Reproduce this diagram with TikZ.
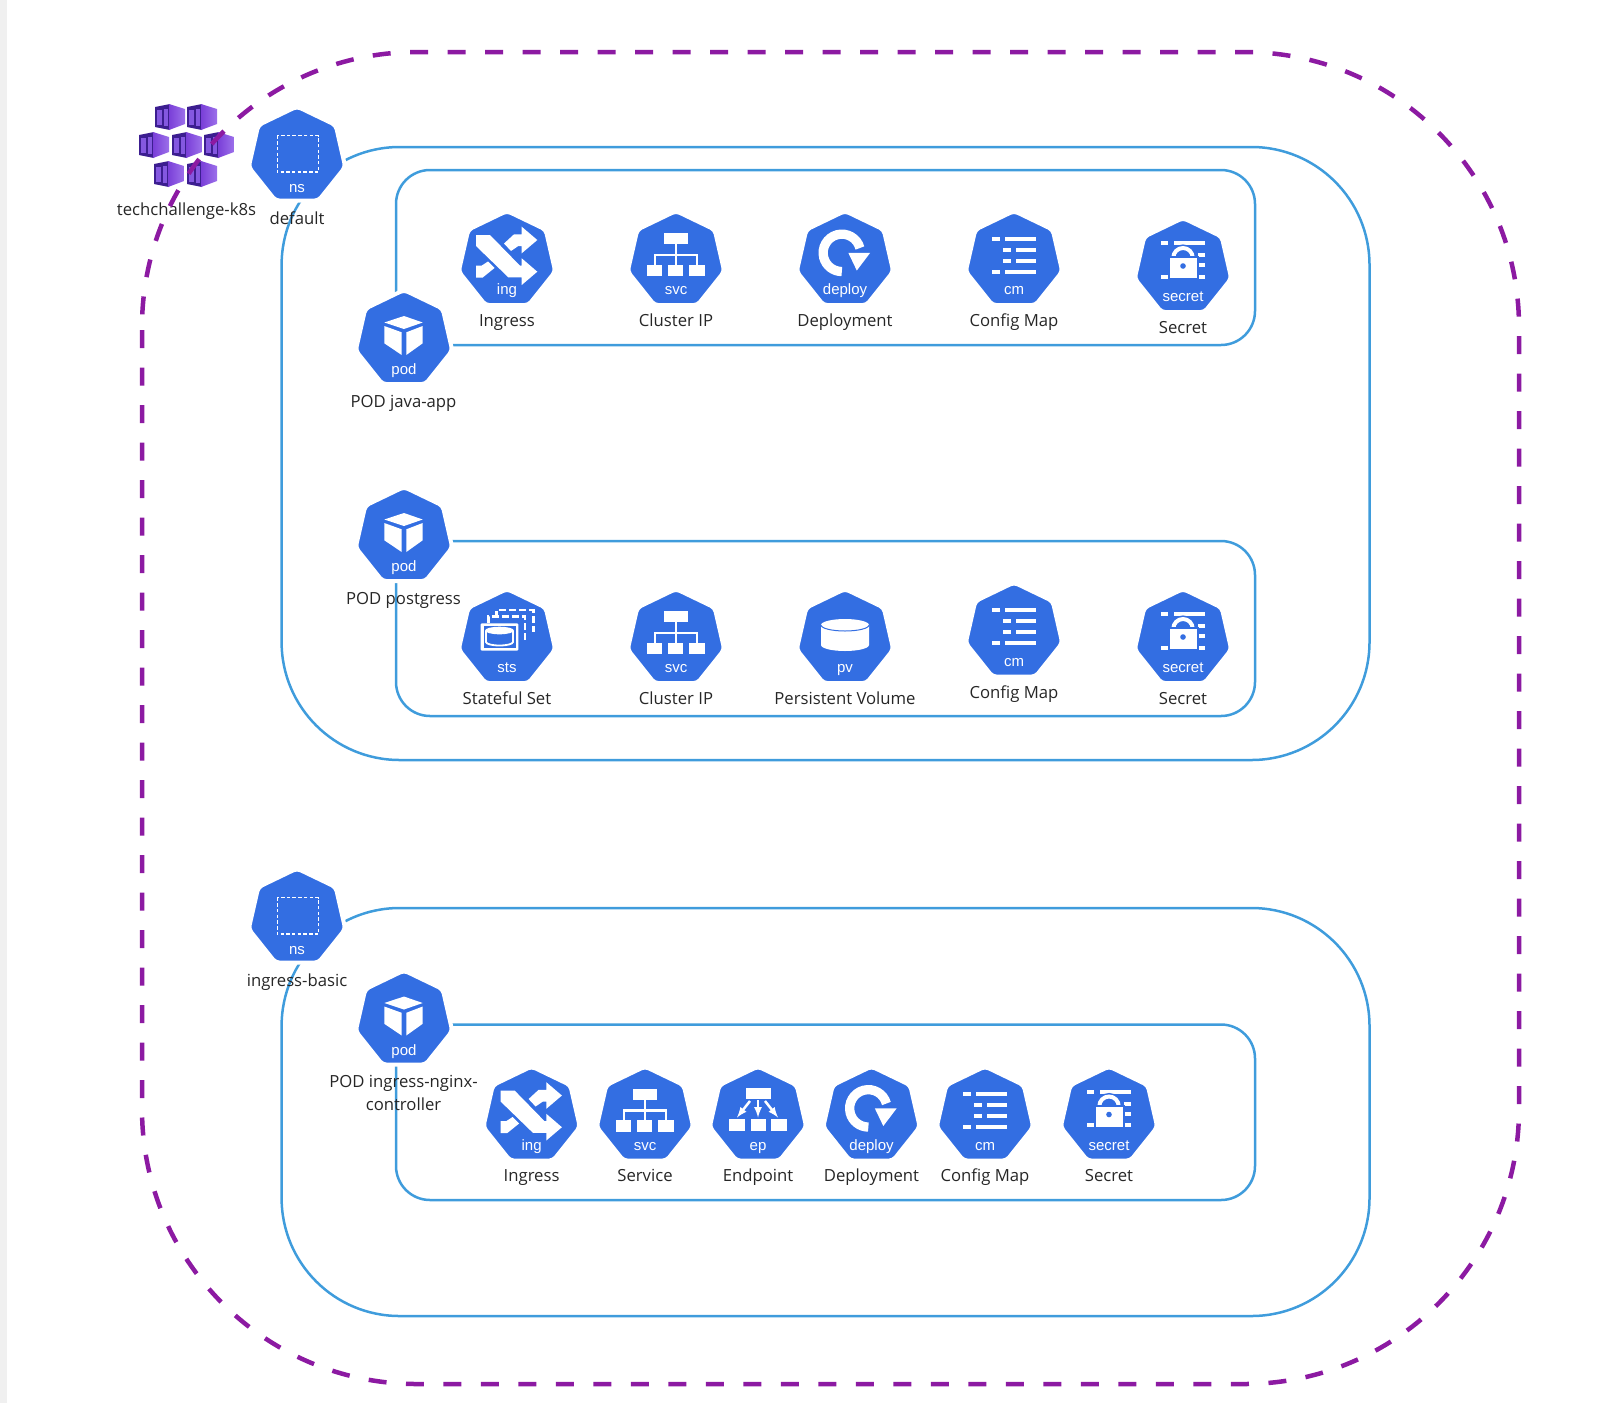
\documentclass[tikz,border=0pt]{standalone}
\usepackage{fontspec}
\setmainfont{Open Sans}
\newfontfamily\tagfont{Liberation Sans}
\usetikzlibrary{shapes.geometric}
\definecolor{kblue}{HTML}{336EE2}
\definecolor{boxblue}{HTML}{3F9CDC}
\definecolor{dashpurple}{HTML}{8C1AA2}
\definecolor{cubedark}{HTML}{3C1E90}
\definecolor{cubebar}{HTML}{8458E0}
\definecolor{cubeleft}{HTML}{7A3FD8}
\definecolor{cuberight}{HTML}{9C70EA}
\tikzset{
  hepta/.style={regular polygon,regular polygon sides=7,minimum size=99pt,inner sep=0pt,outer sep=0pt,
    fill=kblue,draw=white,line width=4pt,rounded corners=4pt},
  tag/.style={text=white,anchor=base,inner sep=0pt,font=\tagfont\fontsize{15}{18}\selectfont},
  lbl/.style={text=black!85,anchor=base,inner sep=0pt,align=center,font=\fontsize{16.7}{23.5}\selectfont},
  ctr/.style={draw=boxblue,line width=2.5pt},
  nsglyph/.pic={
    \draw[white,line width=1.6pt,dash pattern=on 3.5pt off 2.2pt] (-19.7,-20.5) rectangle (21.3,16.2);
    \node[tag] (tag) at (0,36) {ns};
  },
  podglyph/.pic={
    \fill[white] (0,-23.5)--(18.7,-17)--(0,-10.5)--(-19.7,-17)--cycle;
    \fill[white] (-19.7,-13.5)--(-2.3,-7.2)--(-2.3,15.5)--(-19.7,3.8)--cycle;
    \fill[white] (2.3,-7.2)--(18.7,-13.5)--(18.7,3.8)--(2.3,15.5)--cycle;
    \node[tag] (tag) at (0,35) {pod};
  },
  ingglyph/.pic={
    \fill[white] (-31,-25.5)--(-17,-25.5)--(13,5.2)--(14.7,5.2)--(14.7,-2.2)--(30.3,11.2)--(14.7,24.5)--(14.7,16.8)--(1.3,16.8)--(-31,-14.5)--cycle;
    \fill[white] (14.7,-33.8)--(30.3,-20.5)--(14.7,-7.2)--(14.7,-14.5)--(11.3,-14.5)--(4,-9.5)--(-3,-17)--(7,-26.2)--(14.7,-26.2)--cycle;
    \fill[white] (-31,5.2)--(-25.5,5.2)--(-19,1)--(-12.5,7.5)--(-24.5,17.2)--(-31,17.2)--cycle;
    \node[tag] (tag) at (0,34) {ing};
  },
  svcglyph/.pic={
    \fill[white] (-12,-27.5) rectangle (12.3,-16.5);
    \fill[white] (-28.7,4) rectangle (-13.7,15.5);
    \fill[white] (-7.7,4) rectangle (7.3,15.5);
    \fill[white] (13.3,4) rectangle (29,15.5);
    \draw[white,line width=2.3pt] (0,-16.5)--(0,4) (-21,4)--(-21,-5.5)--(21,-5.5)--(21,4);
    \node[tag] (tag) at (0,34) {svc};
  },
  epglyph/.pic={
    \fill[white] (-12,-27.7) rectangle (12.7,-17);
    \fill[white] (-28.7,3.3) rectangle (-13,14.7);
    \fill[white] (-7.3,3.3) rectangle (8,14.7);
    \fill[white] (13,3.3) rectangle (28.7,14.7);
    \draw[white,line width=2.5pt,-latex] (0,-16)--(0,1.5);
    \draw[white,line width=2.5pt,-latex] (-8,-15)--(-21,1.5);
    \draw[white,line width=2.5pt,-latex] (7,-15)--(20,1.5);
    \node[tag] (tag) at (0,34) {ep};
  },
  deployglyph/.pic={
    \draw[white,line width=9.3pt] (14.9,-12.5) arc[start angle=-15,end angle=-270,radius=18.7];
    \fill[white] (3.3,-7.7)--(25.2,-7.7)--(11.8,10)--cycle;
    \node[tag] (tag) at (0,34) {deploy};
  },
  cmglyph/.pic={
    \fill[white] (-21.7,-24) rectangle (-14,-20);
    \fill[white] (-8.7,-24) rectangle (22,-20);
    \fill[white] (-10.7,-13) rectangle (-3,-9);
    \fill[white] (2,-13) rectangle (22,-9);
    \fill[white] (-10.7,-2) rectangle (-3,2);
    \fill[white] (2,-2) rectangle (22,2);
    \fill[white] (-21.7,9) rectangle (-14,13);
    \fill[white] (-8.7,9) rectangle (22,13);
    \node[tag] (tag) at (0,34) {cm};
  },
  secretglyph/.pic={
    \fill[white] (-22,-26.2) rectangle (-14.7,-22.2);
    \fill[white] (-8.7,-26.2) rectangle (22,-22.2);
    \fill[white] (15.3,-14.5) rectangle (22,-10.5);
    \fill[white] (15.3,-4.5) rectangle (22,-0.5);
    \fill[white] (-22,7.2) rectangle (-14.7,11.2);
    \fill[white] (-8.7,7.2) rectangle (22,11.2);
    \draw[kblue,line width=7pt] (-9.7,-9.8) arc[start angle=-180,end angle=0,radius=9.7];
    \draw[white,line width=4pt] (-9.7,-9.8) arc[start angle=-180,end angle=0,radius=9.7];
    \fill[white,draw=kblue,line width=2pt] (-14.5,-10.5) rectangle (14.5,11.5);
    \fill[kblue] (0,-1.5) circle (2.8);
    \node[tag] (tag) at (0,34) {secret};
  },
  stsglyph/.pic={
    \draw[white,line width=2.5pt,dash pattern=on 7pt off 3pt] (-10.3,-21)--(-10.3,-28.5)--(26.3,-28.5)--(26.3,-7);
    \draw[white,line width=2.5pt,dash pattern=on 7pt off 3pt] (-18.7,-15.2)--(-18.7,-22)--(18,-22)--(18,2);
    \fill[white,rounded corners=1pt] (-26.3,-15.2) rectangle (11.3,12);
    \fill[kblue] (-23.5,-12.5) rectangle (8.5,9.2);
    \draw[white,line width=1.8pt] (-21,-8)--(-21,3.5) arc[start angle=180,end angle=0,x radius=13.5,y radius=3.5]--(6,-8);
    \fill[white] (-7.5,-8) ellipse[x radius=14.4,y radius=3.8];
    \node[tag] (tag) at (0,34) {sts};
  },
  pvglyph/.pic={
    \fill[white] (-24,-13.5)--(-24,6.5) arc[start angle=180,end angle=0,x radius=24,y radius=6]--(24,-13.5)
      arc[start angle=0,end angle=-180,x radius=24,y radius=6]--cycle;
    \draw[kblue,line width=1pt] (-24,-13.5) arc[start angle=180,end angle=0,x radius=24,y radius=6];
    \node[tag] (tag) at (0,34) {pv};
  },
  azcube/.pic={
    \fill[cubedark] (0,3)--(15,0)--(15,26)--(0,23)--cycle;
    \shade[left color=cubeleft,right color=cuberight] (14,0)--(30,5)--(30,20)--(14,26)--cycle;
    \fill[cubebar] (2,5.5) rectangle (7,20.5);
    \fill[cubebar] (9,4.5) rectangle (13,21.5);
  }
}
\begin{document}
\begin{tikzpicture}[x=1pt,y=-1pt]

\useasboundingbox (0,0) rectangle (1600,1403);
\fill[black!6] (0,0) rectangle (7,1403);

% namespaces
\draw[ctr,rounded corners=118pt] (281.6,147) rectangle (1369.5,760);
\draw[ctr,rounded corners=118pt] (281.6,908) rectangle (1369.5,1316);

% pods
\draw[ctr,rounded corners=34pt] (396,170) rectangle (1255,345);
\draw[ctr,rounded corners=34pt] (396,541) rectangle (1255,716);
\draw[ctr,rounded corners=34pt] (396,1024.5) rectangle (1255,1200);

% cluster
\pic (cube1) at (155,104) {azcube};
\pic (cube2) at (187,104) {azcube};
\pic (cube3) at (139,132) {azcube};
\pic (cube4) at (172,132) {azcube};
\pic (cube5) at (204,132) {azcube};
\pic (cube6) at (154,161) {azcube};
\pic (cube7) at (187,161) {azcube};
\node[lbl] (cluster) at (186.5,215) {techchallenge-k8s};

\draw[dashpurple,line width=4.5pt,dash pattern=on 18pt off 19.5pt]
  (142,330)--(142,1109) arc[start angle=180,end angle=90,radius=275]
  --(1244,1384) arc[start angle=90,end angle=0,radius=275]
  --(1519,327) arc[start angle=0,end angle=-90,radius=275]
  --(417,52) arc[start angle=-90,end angle=-180,radius=275]--cycle;

% default
\node[hepta] (ns1) at (297,156) {};
\pic (ns1g) at (ns1) {nsglyph};
\node[lbl] (ns1l) at (297,224) {default};

\node[hepta] (pod1) at (404,339.5) {};
\pic (pod1g) at (pod1) {podglyph};
\node[lbl] (pod1l) at (403.5,407) {POD java-app};

\node[hepta] (ing1) at (507,260.5) {};
\pic (ing1g) at (ing1) {ingglyph};
\node[lbl] (ing1l) at (507,326) {Ingress};

\node[hepta] (svc1) at (676,260.5) {};
\pic (svc1g) at (svc1) {svcglyph};
\node[lbl] (svc1l) at (676,326) {Cluster IP};

\node[hepta] (dep1) at (845,260.5) {};
\pic (dep1g) at (dep1) {deployglyph};
\node[lbl] (dep1l) at (845,326) {Deployment};

\node[hepta] (cm1) at (1014,260.5) {};
\pic (cm1g) at (cm1) {cmglyph};
\node[lbl] (cm1l) at (1014,326) {Config Map};

\node[hepta] (sec1) at (1183,267.5) {};
\pic (sec1g) at (sec1) {secretglyph};
\node[lbl] (sec1l) at (1183,333) {Secret};

\node[hepta] (pod2) at (404,536.5) {};
\pic (pod2g) at (pod2) {podglyph};
\node[lbl] (pod2l) at (403.5,604) {POD postgress};

\node[hepta] (sts2) at (507,638.5) {};
\pic (sts2g) at (sts2) {stsglyph};
\node[lbl] (sts2l) at (507,704) {Stateful Set};

\node[hepta] (svc2) at (676,638.5) {};
\pic (svc2g) at (svc2) {svcglyph};
\node[lbl] (svc2l) at (676,704) {Cluster IP};

\node[hepta] (pv2) at (845,638.5) {};
\pic (pv2g) at (pv2) {pvglyph};
\node[lbl] (pv2l) at (845,704) {Persistent Volume};

\node[hepta] (cm2) at (1014,632) {};
\pic (cm2g) at (cm2) {cmglyph};
\node[lbl] (cm2l) at (1014,698) {Config Map};

\node[hepta] (sec2) at (1183,638.5) {};
\pic (sec2g) at (sec2) {secretglyph};
\node[lbl] (sec2l) at (1183,704) {Secret};

% ingress-basic
\node[hepta] (ns2) at (297,918) {};
\pic (ns2g) at (ns2) {nsglyph};
\node[lbl] (ns2l) at (297,986) {ingress-basic};

\node[hepta] (pod3) at (404,1020) {};
\pic (pod3g) at (pod3) {podglyph};
\node[lbl] (pod3l) at (403.5,1110.7) {POD ingress-nginx-\\controller};

\node[hepta] (ing3) at (531.6,1116) {};
\pic (ing3g) at (ing3) {ingglyph};
\node[lbl] (ing3l) at (531.6,1181) {Ingress};

\node[hepta] (svc3) at (645,1116) {};
\pic (svc3g) at (svc3) {svcglyph};
\node[lbl] (svc3l) at (645,1181) {Service};

\node[hepta] (ep3) at (758,1116) {};
\pic (ep3g) at (ep3) {epglyph};
\node[lbl] (ep3l) at (758,1181) {Endpoint};

\node[hepta] (dep3) at (871.5,1116) {};
\pic (dep3g) at (dep3) {deployglyph};
\node[lbl] (dep3l) at (871.5,1181) {Deployment};

\node[hepta] (cm3) at (985,1116) {};
\pic (cm3g) at (cm3) {cmglyph};
\node[lbl] (cm3l) at (985,1181) {Config Map};

\node[hepta] (sec3) at (1109,1116) {};
\pic (sec3g) at (sec3) {secretglyph};
\node[lbl] (sec3l) at (1109,1181) {Secret};

\end{tikzpicture}
\end{document}
